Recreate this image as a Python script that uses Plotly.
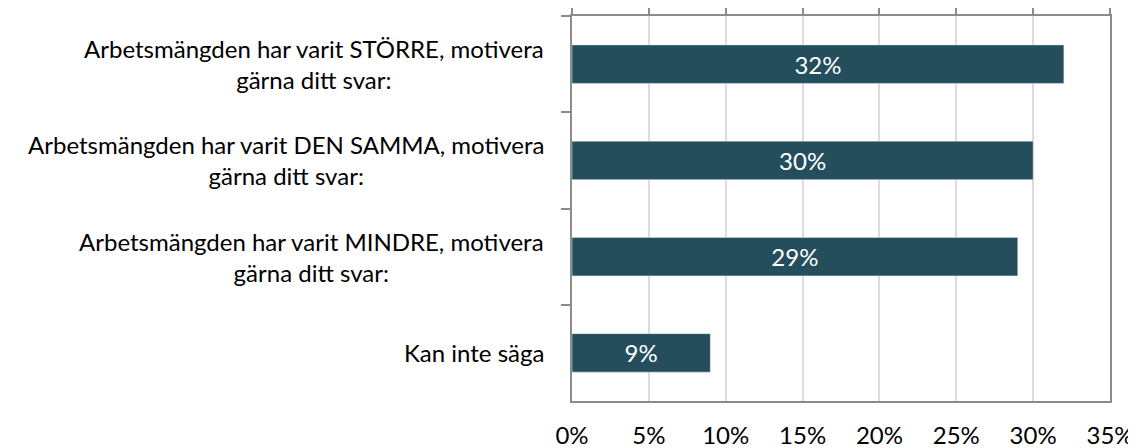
import plotly.graph_objects as go

categories = [
    "Arbetsmängden har varit STÖRRE, motivera<br>gärna ditt svar:",
    "Arbetsmängden har varit DEN SAMMA, motivera<br>gärna ditt svar:",
    "Arbetsmängden har varit MINDRE, motivera<br>gärna ditt svar:",
    "Kan inte säga",
]
values = [32, 30, 29, 9]
tick_values = [0, 5, 10, 15, 20, 25, 30, 35]
tick_labels = ["0%", "5%", "10%", "15%", "20%", "25%", "30%", "35%"]

FONT = "Lato"
BAR = "#244E5B"
AXIS = "#8C8C8C"
GRID = "#DCDCDC"

fig = go.Figure()
fig.add_trace(go.Bar(
    x=values, y=categories, orientation="h",
    marker=dict(color=BAR, line=dict(width=0)),
    text=[f"{v}%" for v in values],
    textposition="inside", insidetextanchor="middle",
    textfont=dict(color="white", size=24, family=FONT),
    hoverinfo="skip",
))

for c in categories:
    fig.add_annotation(
        x=0, xref="paper", xanchor="right", xshift=-26,
        y=c, yref="y", text=c, showarrow=False, align="center",
        font=dict(size=24, family=FONT, color="#000000"),
    )

# page body adds an 8px margin, so the figure is sized to fit the window
fig.update_layout(
    width=1128, height=440,
    margin=dict(l=564, r=26, t=8, b=47, autoexpand=False),
    paper_bgcolor="white", plot_bgcolor="white",
    bargap=0.6, showlegend=False,
    font=dict(family=FONT, color="#000000"),
    xaxis=dict(
        range=[0, 35], tickvals=tick_values, ticktext=tick_labels,
        side="bottom", showgrid=True, gridcolor=GRID, gridwidth=1.5,
        showline=True, linecolor=AXIS, linewidth=2, mirror=True,
        ticks="outside", ticklen=12, tickcolor="rgba(0,0,0,0)",
        tickfont=dict(size=24, family=FONT, color="#000000"),
        zeroline=False, fixedrange=True, automargin=False,
    ),
    xaxis2=dict(
        matches="x", overlaying="x", side="top", anchor="y",
        tickvals=tick_values, showticklabels=False, showgrid=False,
        ticks="outside", ticklen=8, tickwidth=1.5, tickcolor=AXIS,
        showline=False, zeroline=False, automargin=False,
    ),
    yaxis=dict(
        categoryorder="array", categoryarray=categories, autorange="reversed",
        showticklabels=False, showgrid=False,
        tickson="boundaries", ticks="outside", ticklen=9, tickwidth=1.5, tickcolor=AXIS,
        showline=True, linecolor=AXIS, linewidth=2, mirror=True,
        zeroline=False, fixedrange=True, automargin=False,
    ),
)
# invisible companion trace so the top tick axis is drawn
fig.add_trace(go.Bar(x=values, y=categories, orientation="h", xaxis="x2",
                     marker=dict(color="rgba(0,0,0,0)"), hoverinfo="skip",
                     showlegend=False))
fig.update_layout(barmode="overlay")

fig.write_html("out.html")
